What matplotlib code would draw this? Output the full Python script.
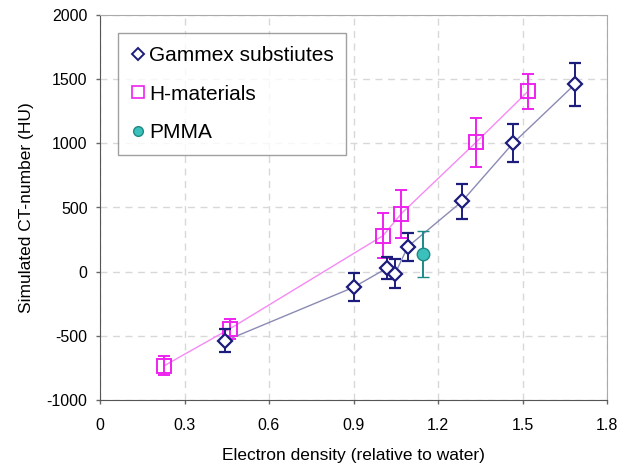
import numpy as np
import matplotlib
matplotlib.use('Agg')
import matplotlib.pyplot as plt
from matplotlib.lines import Line2D

plt.rcParams['font.family'] = ['Liberation Sans', 'DejaVu Sans']
plt.rcParams['axes.unicode_minus'] = False

# Gammex substitutes
gammex_x = [0.444, 0.900, 1.020, 1.047, 1.093, 1.285, 1.466, 1.686]
gammex_y = [-539, -122, 29, -18, 195, 547, 1000, 1460]
gammex_err = [90, 110, 88, 113, 110, 133, 148, 168]

# H-materials
hmat_x = [0.227, 0.461, 1.005, 1.070, 1.335, 1.520]
hmat_y = [-734, -445, 281, 453, 1008, 1406]
hmat_err = [75, 80, 178, 187, 190, 137]

# PMMA
pmma_x = [1.145]
pmma_y = [138]
pmma_err = [182]

x_ticks = [0, 0.3, 0.6, 0.9, 1.2, 1.5, 1.8]
x_ticklabels = ['0', '0.3', '0.6', '0.9', '1.2', '1.5', '1.8']
y_ticks = [-1000, -500, 0, 500, 1000, 1500, 2000]

fig = plt.figure(figsize=(6.29, 4.65), dpi=100)
ax = fig.add_axes([100 / 629, 1 - 400 / 465, 507 / 629, 385 / 465])

navy = '#1c1c7c'
magenta = '#ee22ee'
teal_f = '#3cc0bc'
teal_e = '#1d8a86'

# connecting lines
ax.plot(gammex_x, gammex_y, color='#8a8ab4', lw=1.0, zorder=2)
ax.plot(hmat_x, hmat_y, color='#f58af5', lw=1.0, zorder=2)

ax.errorbar(gammex_x, gammex_y, yerr=gammex_err, fmt='D', ms=7, mfc='white',
            mec=navy, mew=1.6, ecolor=navy, elinewidth=1.4, capsize=4,
            capthick=1.4, zorder=4)
ax.errorbar(hmat_x, hmat_y, yerr=hmat_err, fmt='s', ms=10, mfc='none',
            mec=magenta, mew=1.4, ecolor=magenta, elinewidth=1.4, capsize=4,
            capthick=1.4, zorder=3)
ax.errorbar(pmma_x, pmma_y, yerr=pmma_err, fmt='o', ms=9, mfc=teal_f,
            mec=teal_e, mew=1.0, ecolor=teal_e, elinewidth=1.4,
            capsize=4, capthick=1.4, zorder=4)

ax.set_xlim(0, 1.8)
ax.set_ylim(-1000, 2000)
ax.set_xticks(x_ticks)
ax.set_xticklabels(x_ticklabels)
ax.set_yticks(y_ticks)
ax.tick_params(labelsize=11.5, length=3, width=1, color='#666666')
ax.tick_params(axis='x', pad=10)
ax.tick_params(axis='y', pad=6)

ax.grid(True, linestyle=(0, (5, 4)), color='#d8d8d8', lw=1)
ax.set_axisbelow(True)
for side in ['left', 'bottom']:
    ax.spines[side].set_color('#555555')
for side in ['top', 'right']:
    ax.spines[side].set_color('#aaaaaa')

ax.set_xlabel('Electron density (relative to water)', fontsize=12.5, labelpad=11)
ax.set_ylabel('Simulated CT-number (HU)', fontsize=12.5, labelpad=9)

handles = [
    Line2D([], [], ls='none', marker='D', ms=6, mfc='white', mec=navy, mew=1.4),
    Line2D([], [], ls='none', marker='s', ms=8, mfc='white', mec=magenta, mew=1.2),
    Line2D([], [], ls='none', marker='o', ms=7, mfc=teal_f, mec=teal_e, mew=1.0),
]
labels = ['Gammex substiutes', 'H-materials', 'PMMA']
leg = ax.legend(handles, labels, loc='upper left', bbox_to_anchor=(0.035, 0.952),
                fontsize=15, frameon=True, fancybox=False, edgecolor='#888888',
                handlelength=0.7, handletextpad=0.2, labelspacing=0.94,
                borderpad=0.6, borderaxespad=0)
leg.get_frame().set_linewidth(1.0)

fig.savefig('out.png', dpi=100)
